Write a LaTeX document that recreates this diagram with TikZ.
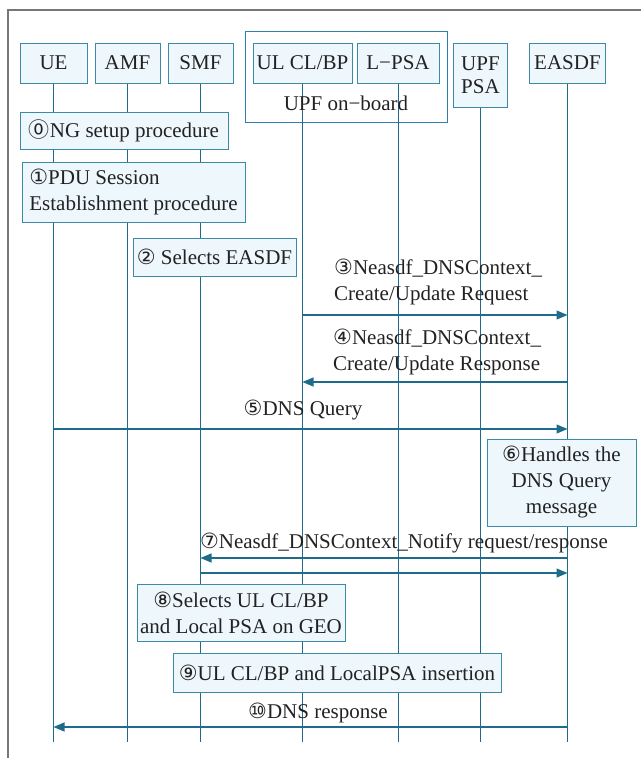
\documentclass[tikz,border=0pt]{standalone}
\usepackage{fontspec}
\setmainfont{Liberation Serif}
\newfontfamily\circfont{DejaVu Sans}
\newfontfamily\circzfont{Noto Sans CJK JP}
\usetikzlibrary{arrows.meta}
\definecolor{lifec}{HTML}{1E6B8C}
\definecolor{boxc}{HTML}{3C8AA6}
\definecolor{boxfill}{HTML}{EEF7FC}
\definecolor{outerc}{HTML}{2F80B0}
\definecolor{framec}{HTML}{777777}
\definecolor{txt}{HTML}{222222}
\newcommand{\cn}[1]{{\circfont #1}}
\newcommand{\cnz}[1]{{\circzfont #1}}
\begin{document}
\begin{tikzpicture}[x=1pt,y=-1pt,
  every node/.style={font=\fontsize{21}{26}\selectfont, text=txt},
  actor/.style={draw=boxc, fill=boxfill, line width=1pt, minimum height=40pt, inner sep=0pt},
  actbox/.style={draw=boxc, fill=boxfill, line width=1pt, inner sep=0pt},
  life/.style={draw=lifec, line width=1pt},
  msg/.style={draw=lifec, line width=1.2pt, -{Triangle[length=11pt,width=9pt]}},
  lbl/.style={inner sep=0pt}
]
\useasboundingbox (0,0) rectangle (641,758);
% frame
\draw[framec, line width=1.5pt] (8,758) -- (8,10) -- (641,10);

% header
\node[draw=outerc, line width=1pt, minimum width=202pt, minimum height=91pt, inner sep=0pt] (onboard) at (346,76.5) {};
\node[actor, minimum width=67pt] (ue) at (53.5,63) {UE};
\node[actor, minimum width=65pt] (amf) at (127.5,63) {AMF};
\node[actor, minimum width=65pt] (smf) at (200.5,63) {SMF};
\node[actor, minimum width=99pt] (ulcl) at (302.5,63) {UL CL/BP};
\node[actor, minimum width=82pt] (lpsa) at (398,63) {L−PSA};
\node[actor, minimum width=54pt, minimum height=64pt, align=center] (upfpsa) at (480.5,75) {UPF\\[-3pt]PSA};
\node[actor, minimum width=76pt] (easdf) at (567.5,63) {EASDF};

\coordinate (bottom) at (0,742);
\foreach \n in {ue,amf,smf,ulcl,lpsa,upfpsa,easdf}
  \draw[life] (\n.south) -- (\n.south |- bottom);

\node[lbl] (onboardlbl) at (346,103) {UPF on−board};

% action boxes
\node[actbox, minimum width=208pt, minimum height=37pt] (s0) at (124,130.5) {\cnz{⓪}NG setup procedure};
\node[actbox, minimum width=223pt, minimum height=60pt, align=left] (s1) at (133.5,192) {\cn{①}PDU Session\\Establishment procedure};
\node[actbox, minimum width=163pt, minimum height=38pt] (s2) at (214.5,257) {\cn{②} Selects EASDF};
\node[actbox, minimum width=149pt, minimum height=87pt, align=center] (s6) at (561.5,482.5) {\cn{⑥}Handles the\\DNS Query\\message};
\node[actbox, minimum width=208pt, minimum height=57pt, align=center] (s8) at (241,612.5) {\cn{⑧}Selects UL CL/BP\\and Local PSA on GEO};
\node[actbox, minimum width=328pt, minimum height=39pt] (s9) at (337,672.5) {\cn{⑨}UL CL/BP and LocalPSA insertion};

% messages
\coordinate (y3) at (0,315);
\coordinate (y4) at (0,382);
\coordinate (y5) at (0,429);
\coordinate (y7a) at (0,558);
\coordinate (y7b) at (0,573);
\coordinate (y10) at (0,727);

\draw[msg] (ulcl |- y3) -- (easdf |- y3);
\node[lbl, anchor=west, align=left] (l3) at (334,281.5) {\cn{③}Neasdf\_DNSContext\_\\Create/Update Request};

\draw[msg] (easdf |- y4) -- (ulcl |- y4);
\node[lbl, anchor=west, align=left] (l4) at (333,351.5) {\cn{④}Neasdf\_DNSContext\_\\Create/Update Response};

\draw[msg] (ue |- y5) -- (easdf |- y5);
\node[lbl] (l5) at (303,410) {\cn{⑤}DNS Query};

\draw[msg] (easdf |- y7a) -- (smf |- y7a);
\draw[msg] (smf |- y7b) -- (easdf |- y7b);
\node[lbl] (l7) at (404,543) {\cn{⑦}Neasdf\_DNSContext\_Notify request/response};

\draw[msg] (easdf |- y10) -- (ue |- y10);
\node[lbl] (l10) at (318,713) {\cn{⑩}DNS response};
\end{tikzpicture}
\end{document}
